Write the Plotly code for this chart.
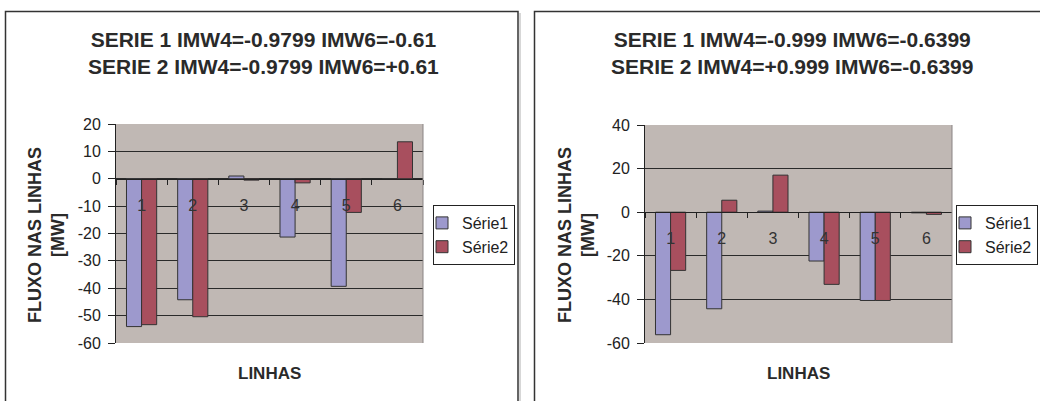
import plotly.graph_objects as go

categories = ["1", "2", "3", "4", "5", "6"]

# Left chart
left_title = "SERIE 1 IMW4=-0.9799 IMW6=-0.61<br>SERIE 2 IMW4=-0.9799 IMW6=+0.61"
left_s1 = [-54.0, -44.2, 1.0, -21.3, -39.3, 0.0]
left_s2 = [-53.3, -50.4, -0.5, -1.5, -12.3, 13.5]
left_yticks = [-60, -50, -40, -30, -20, -10, 0, 10, 20]
left_yticktext = ["-60", "-50", "-40", "-30", "-20", "-10", "0", "10", "20"]

# Right chart
right_title = "SERIE 1 IMW4=-0.999 IMW6=-0.6399<br>SERIE 2 IMW4=+0.999 IMW6=-0.6399"
right_s1 = [-56.2, -44.3, 0.5, -22.4, -40.5, -0.3]
right_s2 = [-26.7, 5.5, 17.0, -33.1, -40.5, -1.0]
right_yticks = [-60, -40, -20, 0, 20, 40]
right_yticktext = ["-60", "-40", "-20", "0", "20", "40"]

series_names = ["Série1", "Série2"]
ytitle = "FLUXO NAS LINHAS<br>[MW]"
xtitle = "LINHAS"

W, H = 1040, 401
FONT = "Liberation Sans, Arial, sans-serif"
C1 = "#9D99CD"
C2 = "#A84F5E"
BG = "#C0B8B4"
EDGE = "#333333"

def px_x(p):
    return p / W

def px_y(p):
    return 1 - p / H

panels = [
    dict(title=left_title, s1=left_s1, s2=left_s2, tv=left_yticks, tt=left_yticktext,
         xdom=[px_x(116), px_x(423)], ydom=[px_y(343), px_y(124)],
         frame=[5.5, 11.5, 518, 410], legend=(433, 205), tcx=263, ytx=46, yty=235),
    dict(title=right_title, s1=right_s1, s2=right_s2, tv=right_yticks, tt=right_yticktext,
         xdom=[px_x(645), px_x(952)], ydom=[px_y(343), px_y(125)],
         frame=[534.5, 11.5, 1050, 410], legend=(956, 205), tcx=792, ytx=576, yty=235),
]

fig = go.Figure()
layout = dict(
    width=W, height=H, margin=dict(l=0, r=0, t=0, b=0, autoexpand=False),
    paper_bgcolor="white", plot_bgcolor=BG,
    font=dict(family=FONT, color="#222222"),
    barmode="group", bargap=0.41, bargroupgap=0.0,
    showlegend=True,
    annotations=[], shapes=[],
)

for i, p in enumerate(panels):
    n = "" if i == 0 else str(i + 1)
    xa, ya = "x" + n, "y" + n
    lg = "legend" + n
    for name, vals, col in zip(series_names, [p["s1"], p["s2"]], [C1, C2]):
        fig.add_trace(go.Bar(
            x=categories, y=vals, name=name, xaxis=xa, yaxis=ya,
            marker=dict(color=col, line=dict(color=EDGE, width=1)),
            legend=lg,
        ))
    ymin, ymax = min(p["tv"]), max(p["tv"])
    zero_pos = p["ydom"][0] + (0 - ymin) / (ymax - ymin) * (p["ydom"][1] - p["ydom"][0])
    layout["xaxis" + n] = dict(
        domain=p["xdom"], anchor="free", position=zero_pos, automargin=False,
        type="category", showline=True, linecolor="#222222", linewidth=1,
        ticks="outside", tickson="boundaries", ticklen=5, tickcolor="#222222",
        showgrid=False, ticklabelstandoff=12,
        tickfont=dict(size=16, color="#333333", family=FONT),
        fixedrange=True,
    )
    layout["yaxis" + n] = dict(
        domain=p["ydom"], anchor=xa, range=[ymin, ymax], automargin=False,
        tickmode="array", tickvals=p["tv"], ticktext=p["tt"],
        showline=True, linecolor="#222222", linewidth=1,
        ticks="outside", ticklen=7, tickcolor="#222222", ticklabelstandoff=4,
        showgrid=True, gridcolor="#2a2a2a", gridwidth=1,
        zeroline=False,
        tickfont=dict(size=16, color="#222222", family=FONT),
        fixedrange=True,
    )
    lx, ly = p["legend"]
    layout[lg] = dict(
        x=px_x(lx), y=px_y(ly), xanchor="left", yanchor="top",
        bgcolor="white", bordercolor="#222222", borderwidth=1,
        font=dict(size=16, family=FONT, color="#222222"),
        itemwidth=30, indentation=-12,
    )
    # panel frame
    fx0, fy0, fx1, fy1 = p["frame"]
    layout["shapes"].append(dict(
        type="rect", xref="paper", yref="paper",
        x0=px_x(fx0), x1=px_x(fx1), y0=px_y(fy1), y1=px_y(fy0),
        line=dict(color="#333333", width=1.5), fillcolor="rgba(0,0,0,0)",
    ))
    # plot area right border
    layout["shapes"].append(dict(
        type="line", xref="paper", yref="paper",
        x0=p["xdom"][1], x1=p["xdom"][1], y0=p["ydom"][0], y1=p["ydom"][1],
        line=dict(color="#8a8484", width=1),
    ))
    # chart title
    layout["annotations"].append(dict(
        text="<b>" + p["title"] + "</b>", xref="paper", yref="paper",
        x=px_x(p["tcx"]), y=px_y(53), xanchor="center", yanchor="middle",
        showarrow=False, font=dict(size=21, family=FONT, color="#2a2a2a"),
    ))
    # x axis title
    xc = (p["xdom"][0] + p["xdom"][1]) / 2
    layout["annotations"].append(dict(
        text="<b>" + xtitle + "</b>", xref="paper", yref="paper",
        x=xc, y=px_y(373), xanchor="center", yanchor="middle",
        showarrow=False, font=dict(size=17, family=FONT, color="#2a2a2a"),
    ))
    # y axis title
    layout["annotations"].append(dict(
        text="<b>" + ytitle + "</b>", xref="paper", yref="paper",
        x=px_x(p["ytx"]), y=px_y(p["yty"]), xanchor="center", yanchor="middle",
        textangle=-90, showarrow=False,
        font=dict(size=18, family=FONT, color="#2a2a2a"),
    ))

# faint shadow line to the right of the left frame
layout["shapes"].append(dict(
    type="line", xref="paper", yref="paper",
    x0=px_x(520), x1=px_x(520), y0=0, y1=px_y(13),
    line=dict(color="#b0b0b0", width=1),
))

fig.update_layout(**layout)
fig.write_html(
    "out.html",
    config={"displayModeBar": False},
    post_script="document.body.style.margin='0';document.body.style.padding='0';",
)
